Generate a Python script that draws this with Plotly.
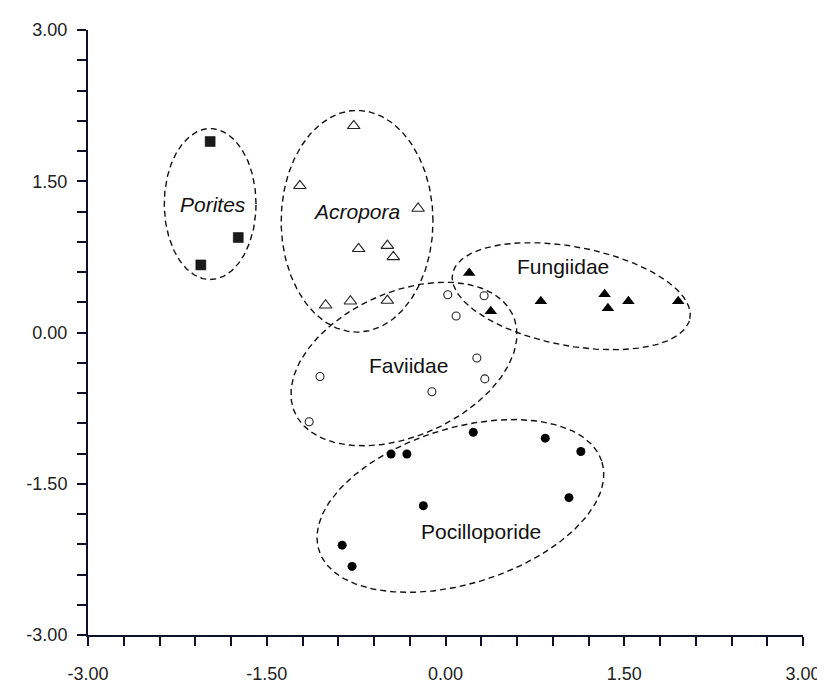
import numpy as np
import plotly.graph_objects as go

# ---- data ----
porites_x = [-1.975, -1.739, -2.053]
porites_y = [1.894, 0.942, 0.670]

acropora_x = [-0.770, -1.222, -0.230, -0.729, -0.488, -0.438, -1.006, -0.798, -0.488]
acropora_y = [2.05, 1.455, 1.23, 0.83, 0.862, 0.75, 0.27, 0.31, 0.317]

fungiidae_x = [0.199, 0.800, 1.335, 1.363, 1.535, 1.953, 0.380]
fungiidae_y = [0.59, 0.31, 0.38, 0.24, 0.31, 0.31, 0.21]

faviidae_x = [0.019, 0.324, 0.089, 0.263, 0.330, -0.114, -1.053, -1.144]
faviidae_y = [0.375, 0.365, 0.163, -0.253, -0.46, -0.587, -0.436, -0.885]

pocillo_x = [-0.457, -0.324, 0.233, 0.837, 1.136, 1.036, -0.186, -0.867, -0.784]
pocillo_y = [-1.205, -1.205, -0.99, -1.048, -1.18, -1.638, -1.718, -2.109, -2.32]

group_labels = ["Porites", "Acropora", "Fungiidae", "Faviidae", "Pocilloporide"]
label_x = [-1.947, -0.75, 0.983, -0.313, 0.297]
label_y = [1.267, 1.20, 0.654, -0.33, -1.974]

tick_vals = [-3, -1.5, 0, 1.5, 3]
tick_text = ["-3.00", "-1.50", "0.00", "1.50", "3.00"]

# ellipse outlines: centre x, centre y, semi-axis a, semi-axis b (x-axis units), angle (deg)
ellipses = [
    (-1.975, 1.274, 0.385, 0.647, 0),
    (-0.742, 1.103, 0.637, 0.950, 0),
    (1.055, 0.360, 1.014, 0.424, -11),
    (-0.349, -0.3125, 1.006, 0.615, 25),
    (0.125, -1.720, 1.247, 0.665, 18),
]

# ---- layout geometry ----
W, H = 825, 688
ML, MR, MT, MB = 80, 23, 21, 43
pw, ph = W - ML - MR, H - MT - MB
sx, sy = pw / 6.0, ph / 6.0  # px per unit

fig = go.Figure()

dark = "#111111"
t = np.linspace(0, 2 * np.pi, 241)
for cx, cy, a, b, ang in ellipses:
    th = np.radians(ang)
    u = a * sx * np.cos(t)
    v = b * sx * np.sin(t)
    px = u * np.cos(th) - v * np.sin(th)
    py = u * np.sin(th) + v * np.cos(th)
    fig.add_trace(go.Scatter(x=cx + px / sx, y=cy + py / sy, mode="lines",
                             line=dict(color=dark, width=1.4, dash="6px,4px"),
                             hoverinfo="skip", showlegend=False))

fig.add_trace(go.Scatter(x=porites_x, y=porites_y, mode="markers",
                         marker=dict(symbol="square", size=10, color="#1a1a1a",
                                     line=dict(color="#000", width=0.5))))
fig.add_trace(go.Scatter(x=acropora_x, y=acropora_y, mode="markers",
                         marker=dict(symbol="triangle-up-open", size=11, color="#222",
                                     line=dict(width=1.1))))
fig.add_trace(go.Scatter(x=fungiidae_x, y=fungiidae_y, mode="markers",
                         marker=dict(symbol="triangle-up", size=11, color="#000")))
fig.add_trace(go.Scatter(x=faviidae_x, y=faviidae_y, mode="markers",
                         marker=dict(symbol="circle-open", size=8, color="#222",
                                     line=dict(width=1.1))))
fig.add_trace(go.Scatter(x=pocillo_x, y=pocillo_y, mode="markers",
                         marker=dict(symbol="circle", size=9, color="#000")))

for lab, lx, ly in zip(group_labels, label_x, label_y):
    italic = lab in ("Porites", "Acropora")
    fig.add_annotation(x=lx, y=ly, text=f"<i>{lab}</i>" if italic else lab,
                       showarrow=False, font=dict(family="Arial, Liberation Sans", size=21, color="#111"))

axis_common = dict(range=[-3, 3], tickvals=tick_vals, ticktext=tick_text,
                   ticks="outside", ticklen=9, tickwidth=2, tickcolor="#10102a",
                   showline=True, linecolor="#10102a", linewidth=2,
                   showgrid=False, zeroline=False,
                   minor=dict(dtick=0.3, tick0=0, ticks="outside", ticklen=9,
                              tickwidth=2, tickcolor="#10102a", showgrid=False),
                   tickfont=dict(family="Arial, Liberation Sans", size=18, color="#222"))

fig.update_layout(
    width=W, height=H,
    margin=dict(l=ML, r=MR, t=MT, b=MB),
    plot_bgcolor="white", paper_bgcolor="white",
    showlegend=False,
    xaxis=dict(**axis_common, ticklabelstandoff=12),
    yaxis=dict(**axis_common, ticklabelstandoff=6),
)

fig.write_html("out.html")
